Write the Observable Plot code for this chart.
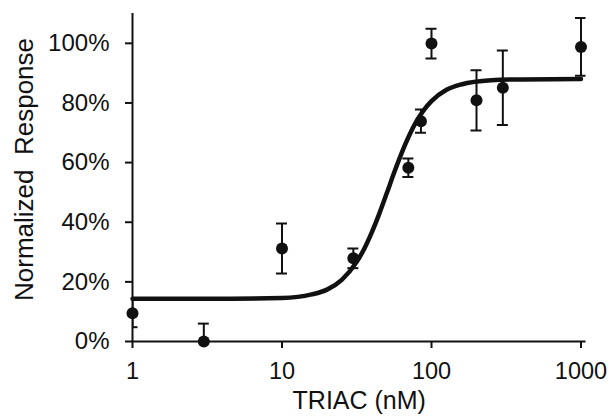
<!DOCTYPE html>
<html>
<head>
<meta charset="utf-8">
<script src="https://cdn.jsdelivr.net/npm/d3@7"></script>
<script src="https://cdn.jsdelivr.net/npm/@observablehq/plot@0.6"></script>
<style>
  html, body { margin: 0; padding: 0; background: #fff; }
  #chart svg { display: block; }
</style>
</head>
<body>
<div id="chart"></div>
<script>
// Measured data (TRIAC concentration in nM, normalized response as fraction)
const conc     = [1, 3, 10, 30, 70, 85, 100, 200, 300, 1000];
const response = [0.095, 0.0, 0.312, 0.279, 0.583, 0.739, 0.999, 0.809, 0.851, 0.988];
const sem      = [0.047, 0.06, 0.084, 0.033, 0.031, 0.039, 0.050, 0.101, 0.125, 0.097];

// Fitted dose-response curve
const fitX = [1, 3.16, 10, 15.8, 20, 25.1, 31.6, 35.5, 39.8, 44.7, 50.1, 56.2, 63.1, 70.8, 79.4, 89.1, 100, 126, 158, 251, 398, 1000];
const fitY = [0.143, 0.143, 0.146, 0.158, 0.174, 0.207, 0.267, 0.311, 0.365, 0.428, 0.496, 0.566, 0.632, 0.690, 0.739, 0.777, 0.806, 0.844, 0.862, 0.876, 0.879, 0.880];

// Tick labels
const xTicks = [1, 10, 100, 1000];
const yTicks = [0, 0.2, 0.4, 0.6, 0.8, 1.0];
const xTitle = "TRIAC (nM)";
const yTitle = "Normalized\u00a0 Response";

const points = conc.map((c, i) => ({c, r: response[i], lo: response[i] - sem[i], hi: response[i] + sem[i]}));
const fit = fitX.map((x, i) => ({x, y: fitY[i]}));

const ink = "#111";
const font = "'Liberation Sans', Arial, sans-serif";

const chart = Plot.plot({
  width: 610,
  height: 420,
  marginLeft: 132,
  marginRight: 24.5,
  marginTop: 13,
  marginBottom: 79,
  style: {fontFamily: font, color: ink, background: "#fff"},
  x: {type: "log", domain: [1, 1080]},
  y: {domain: [0, 1.1]},
  marks: [
    Plot.axisX({ticks: xTicks, tickFormat: d => String(d), tickSize: 7, tickPadding: 14, fontSize: 23.5, strokeWidth: 2, label: null}),
    Plot.axisY({ticks: yTicks, tickFormat: d => Math.round(d * 100) + "%", tickSize: 7, tickPadding: 16, fontSize: 24, strokeWidth: 2, label: null}),
    Plot.ruleY([0], {stroke: ink, strokeWidth: 2}),
    Plot.ruleX([1], {stroke: ink, strokeWidth: 2}),
    Plot.ruleX(points, {x: "c", y1: "lo", y2: "hi", stroke: ink, strokeWidth: 2, clip: true}),
    Plot.ruleY(points, {x1: "c", x2: "c", y: "hi", stroke: ink, strokeWidth: 2, insetLeft: -5.5, insetRight: -5.5, clip: true}),
    Plot.ruleY(points, {x1: "c", x2: "c", y: "lo", stroke: ink, strokeWidth: 2, insetLeft: -5.5, insetRight: -5.5, clip: true}),
    Plot.line(fit, {x: "x", y: "y", stroke: ink, strokeWidth: 4.5, curve: "monotone-x"}),
    Plot.dot(points, {x: "c", y: "r", r: 6, fill: ink, stroke: "none"}),
    Plot.text([xTitle], {text: d => d, frameAnchor: "bottom", textAnchor: "middle", lineAnchor: "middle", dy: 59, fontSize: 25, fill: ink}),
    Plot.text([yTitle], {text: d => d, frameAnchor: "left", textAnchor: "middle", lineAnchor: "middle", rotate: -90, dx: -108, dy: -8, fontSize: 26, fill: ink})
  ]
});

document.getElementById("chart").appendChild(chart);
</script>
</body>
</html>
